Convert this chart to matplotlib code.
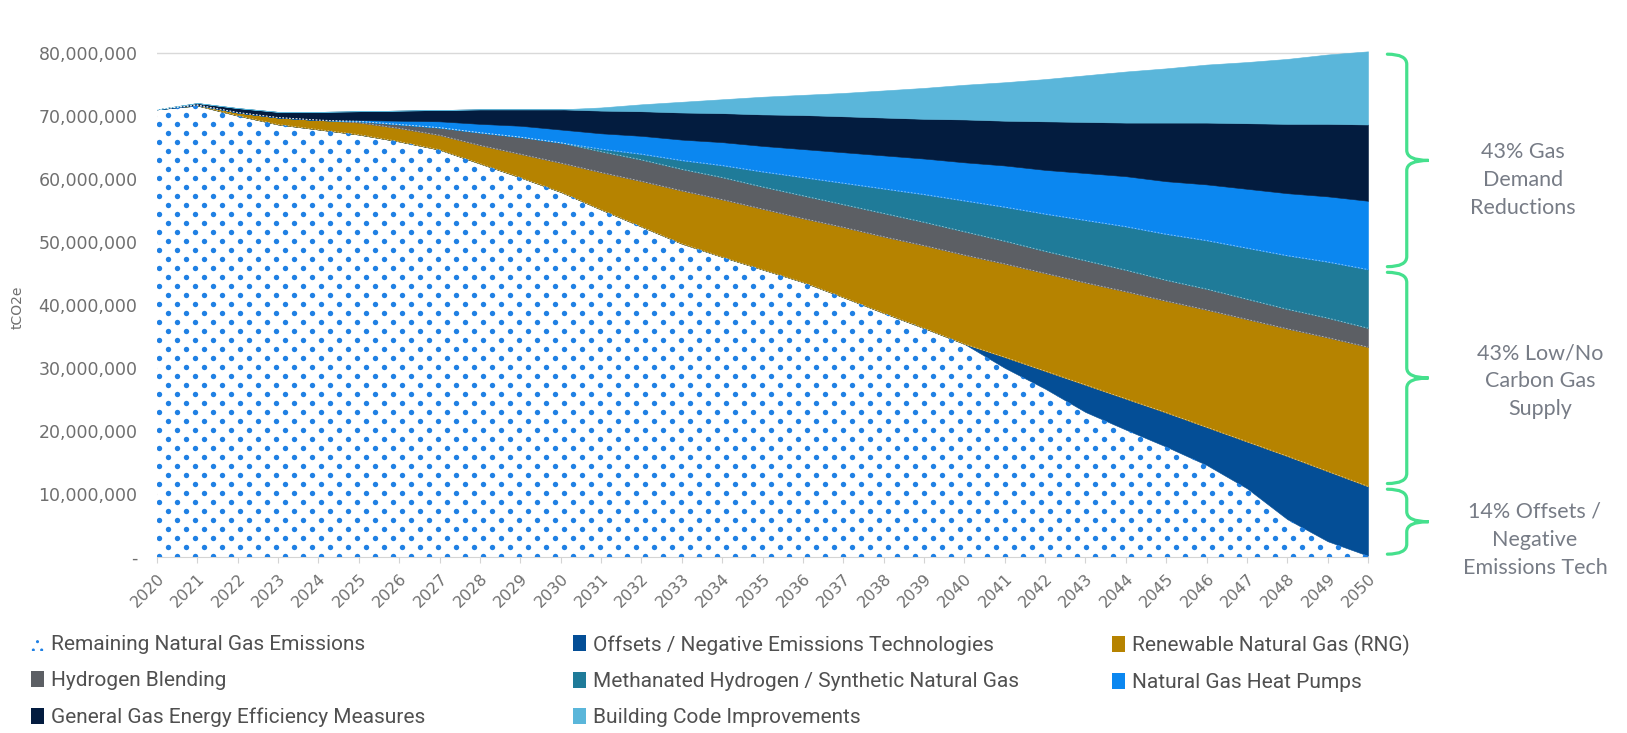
import matplotlib
matplotlib.use("Agg")
import matplotlib.pyplot as plt
import numpy as np
from matplotlib.patches import Patch, PathPatch
from matplotlib.path import Path
from matplotlib.transforms import blended_transform_factory
from matplotlib.ticker import FuncFormatter

years = list(range(2020, 2051))

# million tCO2e per year, listed bottom to top of the stack
remaining = [71.0, 71.6, 70.0, 68.6, 67.8, 67.0, 65.9, 64.6, 62.4, 60.2, 57.9,
             55.1, 52.4, 49.7, 47.6, 45.6, 43.6, 41.2, 38.7, 36.3, 33.8,
             30.0, 26.7, 23.0, 20.2, 17.5, 14.6, 10.9, 6.0, 2.5, 0.2]
offsets = [0.0] * 21 + [1.7, 2.8, 4.3, 4.9, 5.4, 6.0, 7.4, 10.0, 11.1, 11.0]
rng = [0.0, 0.1, 0.5, 1.1, 1.5, 1.9, 2.1, 2.3, 2.9, 3.7, 4.6,
       5.9, 7.2, 8.4, 9.1, 9.6, 10.1, 11.1, 12.1, 13.1, 14.1,
       14.8, 15.5, 16.2, 17.0, 17.7, 18.6, 19.4, 20.2, 21.2, 22.1]
hydrogen = [0.0, 0.0, 0.0, 0.0, 0.0, 0.2, 0.6, 1.2, 2.0, 2.7, 3.2,
            3.3, 3.4, 3.4, 3.5, 3.5, 3.6, 3.6, 3.7, 3.7, 3.7,
            3.6, 3.5, 3.5, 3.4, 3.3, 3.3, 3.2, 3.1, 3.1, 3.0]
methanated = [0.0] * 11 + [0.4, 0.9, 1.4, 1.9, 2.4, 2.9, 3.4, 3.9, 4.4, 4.9,
                           5.4, 5.9, 6.4, 6.9, 7.3, 7.7, 8.1, 8.5, 8.9, 9.3]
heat_pumps = [0.0, 0.0, 0.0, 0.0, 0.0, 0.2, 0.6, 1.0, 1.4, 1.8, 2.1,
              2.5, 2.9, 3.3, 3.7, 4.1, 4.5, 4.9, 5.3, 5.7, 6.1,
              6.6, 7.0, 7.5, 8.0, 8.4, 8.9, 9.4, 9.9, 10.4, 10.9]
efficiency = [0.0, 0.3, 0.7, 0.9, 1.3, 1.4, 1.6, 1.8, 2.3, 2.6, 3.2,
              3.6, 3.9, 4.3, 4.6, 5.0, 5.4, 5.7, 6.0, 6.3, 6.8,
              7.1, 7.7, 8.1, 8.5, 9.3, 9.8, 10.4, 11.0, 11.5, 12.1]
building = [0.0] * 11 + [0.5, 1.1, 1.7, 2.2, 2.8, 3.2, 3.7, 4.3, 4.9, 5.5,
                         6.1, 6.7, 7.4, 8.1, 8.6, 9.2, 9.7, 10.3, 11.0, 11.6]

labels = ["Remaining Natural Gas Emissions",
          "Offsets / Negative Emissions Technologies",
          "Renewable Natural Gas (RNG)",
          "Hydrogen Blending",
          "Methanated Hydrogen / Synthetic Natural Gas",
          "Natural Gas Heat Pumps",
          "General Gas Energy Efficiency Measures",
          "Building Code Improvements"]
colors = ["white", "#044e96", "#b68300", "#5c5f64", "#1f7b99",
          "#0b87f0", "#031c3f", "#5ab6da"]
dot_color = "#1f80e4"
green = "#45e08d"
grey = "#6f6f6f"

brace_text = ["14% Offsets /\nNegative\nEmissions Tech",
              "43% Low/No\nCarbon Gas\nSupply",
              "43% Gas\nDemand\nReductions"]

series = [remaining, offsets, rng, hydrogen, methanated, heat_pumps,
          efficiency, building]
data = np.array(series) * 1e6

W, H = 1627, 733
fig = plt.figure(figsize=(W / 100, H / 100), dpi=100)
ax = fig.add_axes([157 / W, (H - 557) / H, (1368 - 157) / W, 517 / H])
ax.set_xlim(2020, 2050)
ax.set_ylim(0, 82e6)

polys = ax.stackplot(years, *data, colors=colors, linewidth=0.4,
                     edgecolor="face", zorder=2)

# dotted texture for the remaining emissions, clipped to its area
bb = ax.bbox
pts = []
for i, py in enumerate(np.arange(bb.y0 + 1, bb.y1, 9)):
    shift = 9 if i % 2 else 0
    for px in np.arange(bb.x0 + 2 + shift, bb.x1, 18):
        pts.append((px, py))
pts = ax.transData.inverted().transform(np.array(pts))
sc = ax.scatter(pts[:, 0], pts[:, 1], s=15, color=dot_color, lw=0, zorder=3)
sc.set_clip_path(polys[0].get_paths()[0], ax.transData)

# faint dashed seams between the supply layers
cum = np.cumsum(data, axis=0)
for k in range(1, 5):
    ax.plot(years, cum[k], color="white", lw=0.6, ls=(0, (2, 2)),
            alpha=0.55, zorder=4)

ax.set_yticks(np.arange(0, 80e6 + 1, 10e6))
ax.yaxis.set_major_formatter(FuncFormatter(
    lambda v, p: "-" if v == 0 else f"{v:,.0f}"))
ax.set_xticks(years)
ax.set_xticklabels([str(y) for y in years], rotation=45, ha="right",
                   rotation_mode="anchor")
ax.tick_params(axis="y", length=0, pad=14, labelsize=12.5, labelcolor=grey)
ax.tick_params(axis="x", length=4, color="#d4d4d4", labelsize=11.5,
               labelcolor=grey, pad=6)
for s in ["top", "right", "left"]:
    ax.spines[s].set_visible(False)
ax.spines["bottom"].set_color("#d4d4d4")
ax.grid(axis="y", color="#d9d9d9", lw=1)
ax.set_axisbelow(True)

fig.text(18 / W, 1 - 307 / H, "tCO2e", rotation=90, ha="center",
         va="center", fontsize=10, color=grey)


def brace(lo, hi):
    tr = blended_transform_factory(ax.transAxes, ax.transData)
    x0, xv, xt = 1.016, 1.032, 1.050
    r = 1.6e6
    mid = (lo + hi) / 2
    verts = [(x0, hi), (xv, hi), (xv, hi - r), (xv, mid + r), (xv, mid),
             (xt, mid), (xv, mid), (xv, mid - r), (xv, lo + r), (xv, lo),
             (x0, lo)]
    codes = [Path.MOVETO, Path.CURVE3, Path.CURVE3, Path.LINETO, Path.CURVE3,
             Path.CURVE3, Path.CURVE3, Path.CURVE3, Path.LINETO, Path.CURVE3,
             Path.CURVE3]
    ax.add_patch(PathPatch(Path(verts, codes), transform=tr, fill=False,
                           edgecolor=green, lw=2.3, clip_on=False,
                           capstyle="round"))


# braces group the 2050 stack: offsets, low/no carbon supply, demand cuts
end = cum[:, -1]
bounds = [0, end[1], end[4], end[7]]
gap = 0.45e6
for lo, hi in zip(bounds[:-1], bounds[1:]):
    brace(lo + gap, hi - gap)

text_pos = [(1535, 540), (1540, 381), (1523, 180)]
for (tx, ty), t in zip(text_pos, brace_text):
    fig.text(tx / W, 1 - ty / H, t, ha="center", va="center",
             multialignment="center", fontsize=15.5, color="#777c86",
             linespacing=1.5, family="Lato")

handles = [Patch(facecolor="white", edgecolor=dot_color, hatch="..", lw=0)]
handles += [Patch(facecolor=c, lw=0) for c in colors[1:]]
columns = [[0, 3, 6], [1, 4, 7], [2, 5]]
col_x = [31, 573, 1112]
for idx, cx in zip(columns, col_x):
    fig.legend([handles[i] for i in idx], [labels[i] for i in idx],
               loc="upper left", bbox_to_anchor=(cx / W, 1 - 635 / H),
               frameon=False, labelspacing=0.82,
               handlelength=0.6, handleheight=0.8, handletextpad=0.35,
               borderaxespad=0, borderpad=0, labelcolor="#505050",
               prop={"family": "Roboto", "size": 15})

fig.savefig("out.png", dpi=100)
